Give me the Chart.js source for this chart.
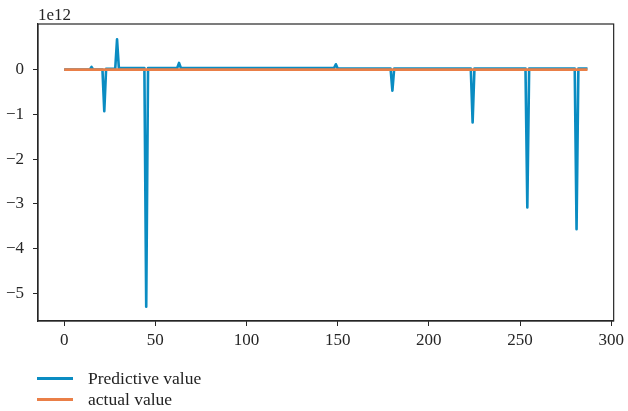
<!DOCTYPE html>
<html>
<head>
<meta charset="utf-8">
<script src="https://cdn.jsdelivr.net/npm/chart.js@4.4.1/dist/chart.umd.min.js"></script>
<style>
  html, body { margin: 0; padding: 0; background: #fff; }
  #wrap { position: relative; width: 628px; height: 411px; }
  #legend { position: absolute; left: 37px; top: 368px; font-family: "Liberation Serif", "DejaVu Serif", serif; font-size: 17.5px; color: #222; }
  .item { display: flex; align-items: center; height: 21px; }
  .swatch { width: 36px; height: 3px; margin-right: 15px; }
</style>
</head>
<body>
<div id="wrap">
  <canvas id="chart" width="628" height="411"></canvas>
  <div id="legend"></div>
</div>
<script>
// values are in units of 1e12
const seriesNames = ['Predictive value', 'actual value'];
const seriesColors = ['#0a8cc2', '#ea7f47'];
const xTicks = [0, 50, 100, 150, 200, 250, 300];
const yTicks = [-5, -4, -3, -2, -1, 0];
const scaleLabel = '1e12';

const predictive = [
    0, 0, 0, 0, 0, 0, 0, 0, 0, 0, 0, 0,
    0, 0, 0, 0.06, 0, 0, 0, 0, 0, 0, -0.93, 0.02,
    0.02, 0.02, 0.02, 0.02, 0.02, 0.68, 0.035, 0.035, 0.035, 0.035, 0.035, 0.035,
    0.035, 0.035, 0.035, 0.035, 0.035, 0.035, 0.035, 0.035, 0.035, -5.3, 0.035, 0.035,
    0.035, 0.035, 0.035, 0.035, 0.035, 0.035, 0.035, 0.035, 0.035, 0.035, 0.035, 0.035,
    0.035, 0.035, 0.035, 0.15, 0.035, 0.035, 0.035, 0.035, 0.035, 0.035, 0.035, 0.035,
    0.035, 0.035, 0.035, 0.035, 0.035, 0.035, 0.035, 0.035, 0.035, 0.035, 0.035, 0.035,
    0.035, 0.035, 0.035, 0.035, 0.035, 0.035, 0.035, 0.035, 0.035, 0.035, 0.035, 0.035,
    0.035, 0.035, 0.035, 0.035, 0.035, 0.035, 0.035, 0.035, 0.035, 0.035, 0.035, 0.035,
    0.035, 0.035, 0.035, 0.035, 0.035, 0.035, 0.035, 0.035, 0.035, 0.035, 0.035, 0.035,
    0.035, 0.035, 0.035, 0.035, 0.035, 0.035, 0.035, 0.035, 0.035, 0.035, 0.035, 0.035,
    0.035, 0.035, 0.035, 0.035, 0.035, 0.035, 0.035, 0.035, 0.035, 0.035, 0.035, 0.035,
    0.035, 0.035, 0.035, 0.035, 0.035, 0.12, 0.025, 0.025, 0.025, 0.025, 0.025, 0.025,
    0.025, 0.025, 0.025, 0.025, 0.025, 0.025, 0.025, 0.025, 0.025, 0.025, 0.025, 0.025,
    0.025, 0.025, 0.025, 0.025, 0.025, 0.025, 0.025, 0.025, 0.025, 0.025, 0.025, 0.025,
    -0.47, 0.025, 0.025, 0.025, 0.025, 0.025, 0.025, 0.025, 0.025, 0.025, 0.025, 0.025,
    0.025, 0.025, 0.025, 0.025, 0.025, 0.025, 0.025, 0.025, 0.025, 0.025, 0.025, 0.025,
    0.025, 0.025, 0.025, 0.025, 0.025, 0.025, 0.025, 0.025, 0.025, 0.025, 0.025, 0.025,
    0.025, 0.025, 0.025, 0.025, 0.025, 0.025, 0.025, 0.025, -1.18, 0.025, 0.025, 0.025,
    0.025, 0.025, 0.025, 0.025, 0.025, 0.025, 0.025, 0.025, 0.025, 0.025, 0.025, 0.025,
    0.025, 0.025, 0.025, 0.025, 0.025, 0.025, 0.025, 0.025, 0.025, 0.025, 0.025, 0.025,
    0.025, 0.025, -3.08, 0.025, 0.025, 0.025, 0.025, 0.025, 0.025, 0.025, 0.025, 0.025,
    0.025, 0.025, 0.025, 0.025, 0.025, 0.025, 0.025, 0.025, 0.025, 0.025, 0.025, 0.025,
    0.025, 0.025, 0.025, 0.025, 0.025, -3.57, 0.025, 0.025, 0.025, 0.025, 0.025, 0.025
];

const actual = [
    0, 0, 0, 0, 0, 0, 0, 0, 0, 0, 0, 0,
    0, 0, 0, 0, 0, 0, 0, 0, 0, 0, 0, 0,
    0, 0, 0, 0, 0, 0, 0, 0, 0, 0, 0, 0,
    0, 0, 0, 0, 0, 0, 0, 0, 0, 0, 0, 0,
    0, 0, 0, 0, 0, 0, 0, 0, 0, 0, 0, 0,
    0, 0, 0, 0, 0, 0, 0, 0, 0, 0, 0, 0,
    0, 0, 0, 0, 0, 0, 0, 0, 0, 0, 0, 0,
    0, 0, 0, 0, 0, 0, 0, 0, 0, 0, 0, 0,
    0, 0, 0, 0, 0, 0, 0, 0, 0, 0, 0, 0,
    0, 0, 0, 0, 0, 0, 0, 0, 0, 0, 0, 0,
    0, 0, 0, 0, 0, 0, 0, 0, 0, 0, 0, 0,
    0, 0, 0, 0, 0, 0, 0, 0, 0, 0, 0, 0,
    0, 0, 0, 0, 0, 0, 0, 0, 0, 0, 0, 0,
    0, 0, 0, 0, 0, 0, 0, 0, 0, 0, 0, 0,
    0, 0, 0, 0, 0, 0, 0, 0, 0, 0, 0, 0,
    0, 0, 0, 0, 0, 0, 0, 0, 0, 0, 0, 0,
    0, 0, 0, 0, 0, 0, 0, 0, 0, 0, 0, 0,
    0, 0, 0, 0, 0, 0, 0, 0, 0, 0, 0, 0,
    0, 0, 0, 0, 0, 0, 0, 0, 0, 0, 0, 0,
    0, 0, 0, 0, 0, 0, 0, 0, 0, 0, 0, 0,
    0, 0, 0, 0, 0, 0, 0, 0, 0, 0, 0, 0,
    0, 0, 0, 0, 0, 0, 0, 0, 0, 0, 0, 0,
    0, 0, 0, 0, 0, 0, 0, 0, 0, 0, 0, 0,
    0, 0, 0, 0, 0, 0, 0, 0, 0, 0, 0, 0
];

const FONT = '"Liberation Serif", "DejaVu Serif", serif';
const INK = '#262626';

function toPoints(values) {
    return values.map((v, i) => ({ x: i, y: v }));
}

// frame round the plot area plus the exponent label above it
const framePlugin = {
    id: 'frame',
    afterDraw(chart) {
        const { ctx, chartArea: a } = chart;
        ctx.save();
        ctx.strokeStyle = INK;
        ctx.lineWidth = 1.2;
        ctx.strokeRect(a.left, a.top, a.right - a.left, a.bottom - a.top);
        ctx.fillStyle = INK;
        ctx.font = '17px ' + FONT;
        ctx.textAlign = 'left';
        ctx.textBaseline = 'alphabetic';
        ctx.fillText(scaleLabel, a.left, a.top - 4);
        ctx.restore();
    }
};

const axisGrid = { display: true, drawOnChartArea: false, drawTicks: true, tickLength: 5, color: INK, lineWidth: 1 };

new Chart(document.getElementById('chart'), {
    type: 'line',
    data: {
        datasets: [
            {
                label: seriesNames[0],
                data: toPoints(predictive),
                borderColor: seriesColors[0],
                borderWidth: 2.6,
                borderJoinStyle: 'round',
                pointRadius: 0,
                tension: 0,
                order: 1
            },
            {
                label: seriesNames[1],
                data: toPoints(actual),
                borderColor: seriesColors[1],
                borderWidth: 2.8,
                borderJoinStyle: 'round',
                pointRadius: 0,
                tension: 0,
                order: 0
            }
        ]
    },
    options: {
        responsive: false,
        animation: false,
        devicePixelRatio: 1,
        layout: { padding: { top: 24, right: 12, left: 0, bottom: 0 } },
        plugins: { legend: { display: false }, tooltip: { enabled: false } },
        scales: {
            x: {
                type: 'linear',
                min: -14.35,
                max: 301.35,
                grid: axisGrid,
                border: { display: true, color: INK, width: 1.2 },
                afterBuildTicks: s => { s.ticks = xTicks.map(v => ({ value: v })); },
                afterFit: s => { s.height = 90; },
                ticks: { color: INK, font: { family: FONT, size: 17 }, padding: 4, maxRotation: 0 }
            },
            y: {
                type: 'linear',
                min: -5.62,
                max: 1.02,
                grid: axisGrid,
                border: { display: true, color: INK, width: 1.2 },
                afterBuildTicks: s => { s.ticks = yTicks.map(v => ({ value: v })); },
                afterFit: s => { s.width = 38; },
                ticks: {
                    color: INK,
                    font: { family: FONT, size: 17 },
                    padding: 9,
                    callback: v => String(v).replace('-', '\u2212')
                }
            }
        }
    },
    plugins: [framePlugin]
});

// legend stacked under the axis
const legend = document.getElementById('legend');
seriesNames.forEach((name, i) => {
    const row = document.createElement('div');
    row.className = 'item';
    const sw = document.createElement('span');
    sw.className = 'swatch';
    sw.style.background = seriesColors[i];
    const label = document.createElement('span');
    label.textContent = name;
    row.appendChild(sw);
    row.appendChild(label);
    legend.appendChild(row);
});
</script>
</body>
</html>
